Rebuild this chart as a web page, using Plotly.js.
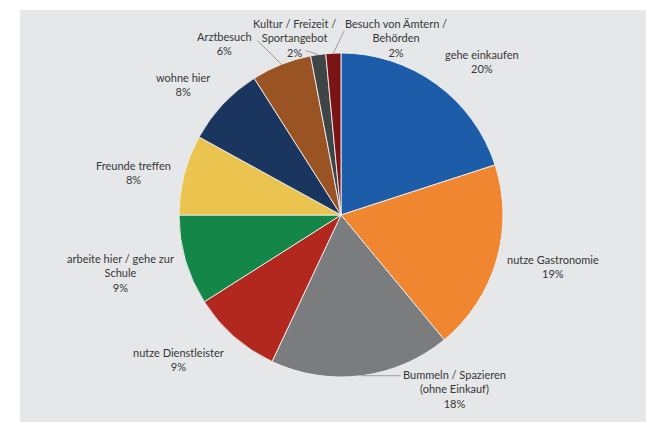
<!DOCTYPE html>
<html>
<head>
<meta charset="utf-8">
<script src="https://cdn.plot.ly/plotly-3.0.1.min.js"></script>
<style>html,body{margin:0;padding:0;background:#fff;}#chart{width:646px;height:422px;}</style>
</head>
<body>
<div id="chart"></div>
<script>
// ---- data ----
const categories = [
  "gehe einkaufen",
  "nutze Gastronomie",
  "Bummeln / Spazieren<br>(ohne Einkauf)",
  "nutze Dienstleister",
  "arbeite hier / gehe zur<br>Schule",
  "Freunde treffen",
  "wohne hier",
  "Arztbesuch",
  "Kultur / Freizeit /<br>Sportangebot",
  "Besuch von Ämtern /<br>Behörden"
];
const values = [20, 19, 18, 9, 9, 8, 8, 6, 1.5, 1.5];
const percentLabels = ["20%", "19%", "18%", "9%", "9%", "8%", "8%", "6%", "2%", "2%"];

// ---- styles / layout ----
const colors = ["#1c5ca9", "#f0862f", "#7a7c7d", "#b2281f", "#148648", "#ebc44f",
                "#1b365e", "#9a5424", "#3f4446", "#7b1414"];
const W = 646, H = 422;
const cx = 341, cy = 215, R = 162;
// label centres (pixels)
const labelPos = [
  [482, 62], [553, 266], [454, 389], [178, 359], [120, 273],
  [133, 172], [183, 84], [224, 43], [294, 38], [396, 38]
];
// leader line end points near the labels (null = no leader)
const leaderEnd = [null, null, [402, null], null, null, null, null,
                   [256, 39], [304, 50], [345, 29]];

const font = {family: "Lato, 'Open Sans', sans-serif", size: 11, color: "#363636"};
const total = values.reduce((a, b) => a + b, 0);
let cum = 0;
const annotations = [];
values.forEach((v, i) => {
  const mid = (cum + v / 2) / total * 2 * Math.PI;
  cum += v;
  const tx = cx + R * Math.sin(mid), ty = cy - R * Math.cos(mid);
  const [lx, ly] = labelPos[i];
  annotations.push({
    text: categories[i] + "<br>" + percentLabels[i], align: "center",
    xref: "paper", yref: "paper", x: lx / W, y: 1 - ly / H,
    xanchor: "center", yanchor: "middle", showarrow: false, font: font
  });
  const le = leaderEnd[i];
  if (le) {
    const ex = le[0], ey = le[1] === null ? ty : le[1];
    annotations.push({
      text: "", xref: "paper", yref: "paper", x: tx / W, y: 1 - ty / H,
      showarrow: true, arrowhead: 0, arrowwidth: 0.8, arrowcolor: "#8a8a8a",
      ax: ex - tx, ay: ey - ty, standoff: 0, font: {size: 1}
    });
  }
});

const trace = {
  type: "pie",
  labels: categories,
  values: values,
  sort: false,
  direction: "clockwise",
  rotation: 0,
  textinfo: "none",
  hoverinfo: "label+percent",
  marker: {colors: colors, line: {color: "rgba(240,240,240,0.9)", width: 1}},
  domain: {x: [(cx - R) / W, (cx + R) / W], y: [(H - cy - R) / H, (H - cy + R) / H]},
  showlegend: false
};

const layout = {
  width: W, height: H,
  margin: {l: 0, r: 0, t: 0, b: 0},
  paper_bgcolor: "#ffffff",
  showlegend: false,
  shapes: [{type: "rect", xref: "paper", yref: "paper", x0: 20 / W, x1: 1,
            y0: 0, y1: (H - 10) / H, fillcolor: "#e6e7e9", line: {width: 0}, layer: "below"}],
  annotations: annotations
};

Plotly.newPlot("chart", [trace], layout, {displayModeBar: false, staticPlot: true});
</script>
</body>
</html>
